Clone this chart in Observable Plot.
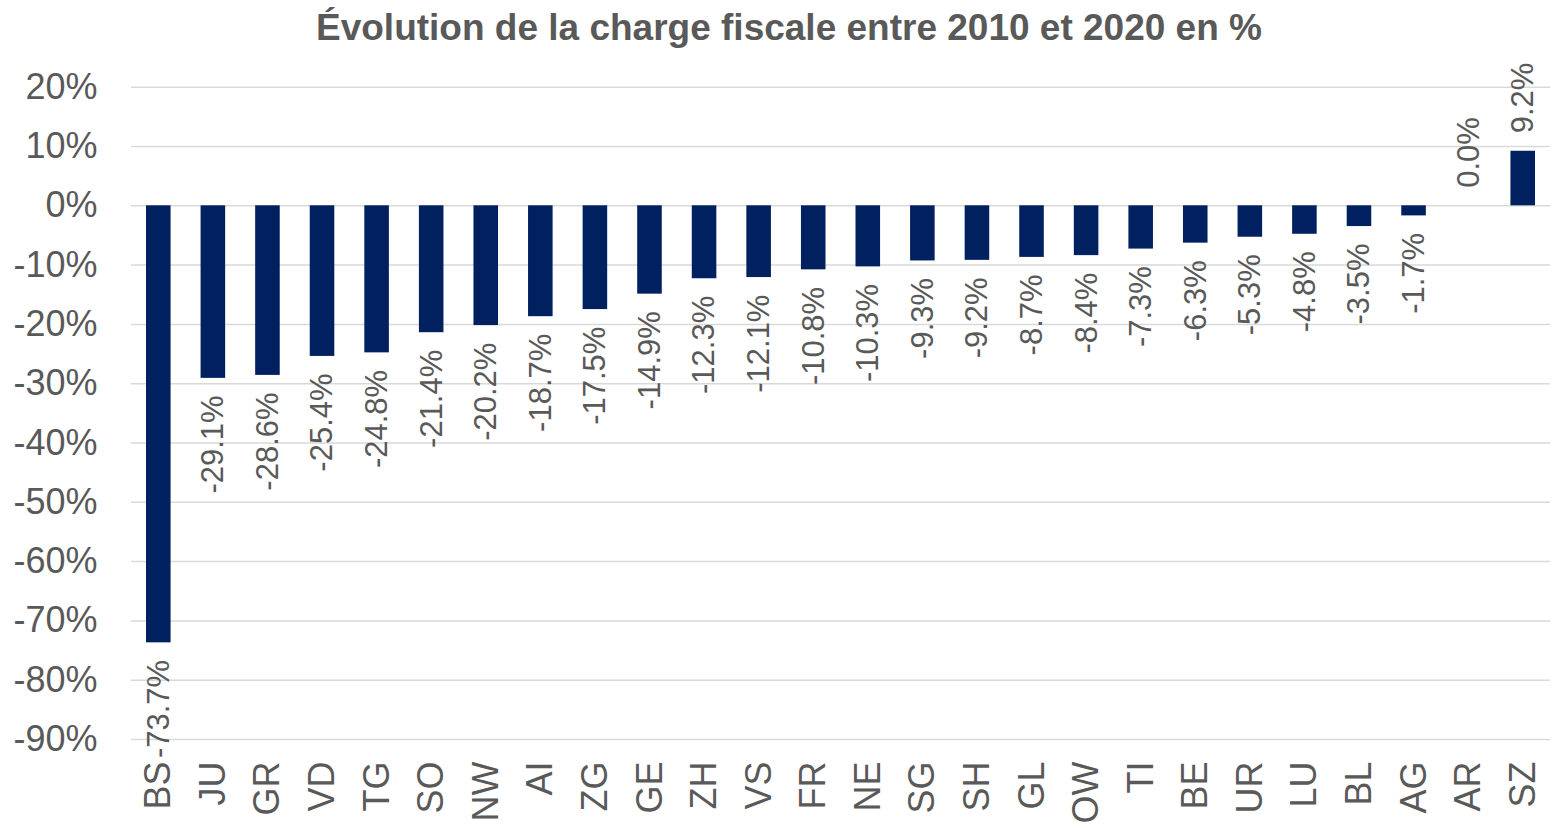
<!DOCTYPE html>
<html>
<head>
<meta charset="utf-8">
<script src="https://cdn.jsdelivr.net/npm/d3@7"></script>
<script src="https://cdn.jsdelivr.net/npm/@observablehq/plot@0.6"></script>
<style>
  html, body { margin: 0; padding: 0; background: #fff; }
  body { width: 1554px; height: 828px; overflow: hidden; font-family: "Liberation Sans", Arial, sans-serif; }
  #title { height: 58px; box-sizing: border-box; padding-left: 24px; padding-top: 7px; text-align: center;
           font-weight: bold; font-size: 37px; color: #595959; line-height: 42px; white-space: nowrap; }
</style>
</head>
<body>
<div id="title">Évolution de la charge fiscale entre 2010 et 2020 en %</div>
<div id="chart"></div>
<script>
const cantons = ["BS","JU","GR","VD","TG","SO","NW","AI","ZG","GE","ZH","VS","FR","NE","SG","SH","GL","OW","TI","BE","UR","LU","BL","AG","AR","SZ"];
const values = [-73.7,-29.1,-28.6,-25.4,-24.8,-21.4,-20.2,-18.7,-17.5,-14.9,-12.3,-12.1,-10.8,-10.3,-9.3,-9.2,-8.7,-8.4,-7.3,-6.3,-5.3,-4.8,-3.5,-1.7,0.0,9.2];
const yTicks = [-90,-80,-70,-60,-50,-40,-30,-20,-10,0,10,20];

const data = cantons.map((c, i) => ({canton: c, value: values[i]}));
const fmt = d => `${d.toFixed(1)}%`;
const textColor = "#595959";

const chart = Plot.plot({
  width: 1554,
  height: 770,
  marginLeft: 131,
  marginRight: 4,
  marginTop: 28.7,
  marginBottom: 89,
  style: {fontFamily: "'Liberation Sans', Arial, sans-serif", fontSize: "36px", color: textColor, background: "#fff"},
  x: {domain: cantons, paddingInner: 0.55, paddingOuter: 0.275, round: false},
  y: {domain: [-90, 20]},
  marks: [
    Plot.gridY(yTicks, {stroke: "#d9d9d9", strokeOpacity: 1, strokeWidth: 1.5}),
    Plot.axisY({ticks: yTicks, tickSize: 0, tickPadding: 34, tickFormat: d => `${d}%`, label: null, fill: textColor, fontSize: 36}),
    Plot.axisX({tickRotate: -90, tickSize: 0, tickPadding: 22, label: null, fill: textColor, fontSize: 36}),
    Plot.barY(data, {x: "canton", y: "value", fill: "#002060"}),
    Plot.text(data.filter(d => d.value < 0), {x: "canton", y: "value", text: d => fmt(d.value), rotate: -90, textAnchor: "end", dy: 17, fill: textColor, fontSize: 31}),
    Plot.text(data.filter(d => d.value >= 0), {x: "canton", y: "value", text: d => fmt(d.value), rotate: -90, textAnchor: "start", dy: -18, fill: textColor, fontSize: 31})
  ]
});
document.getElementById("chart").appendChild(chart);
</script>
</body>
</html>
